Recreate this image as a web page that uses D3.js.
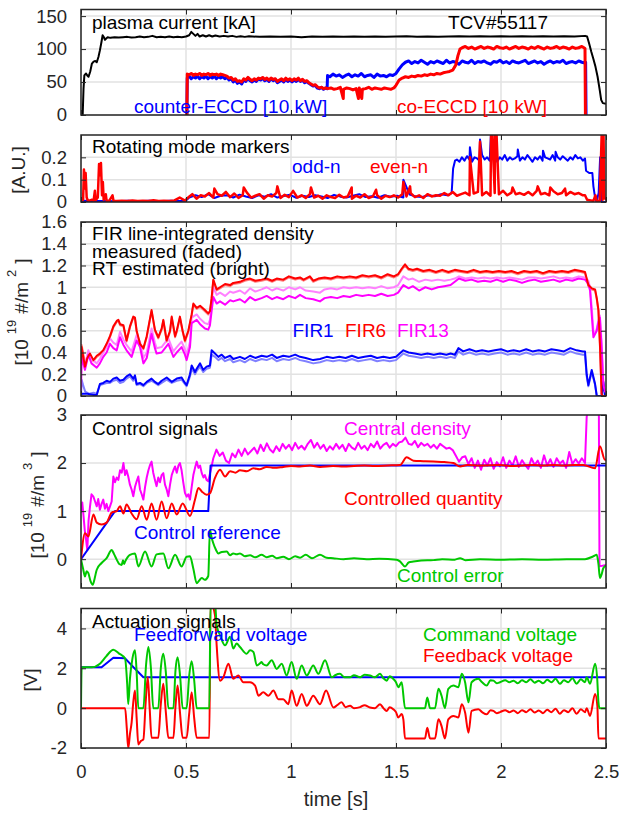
<!DOCTYPE html>
<html>
<head>
<meta charset="utf-8">
<script src="https://cdn.jsdelivr.net/npm/d3@7"></script>
<style>
  body { margin: 0; background: #fff; }
  svg { display: block; }
  text { font-family: "Liberation Sans", Arial, Helvetica, sans-serif; }
</style>
</head>
<body>
<svg id="chart" width="619" height="813"></svg>
<script>
// ---- sampling helper: a run of samples starting at t0, spaced dt apart ----
function seg(t0, dt, vals) { return vals.map((v, i) => [+(t0 + i * dt).toFixed(4), v]); }
function byTime(a, b) { return a[0] - b[0]; }

// ---- shared time axis ----
const timeTicks = [0, 0.5, 1, 1.5, 2, 2.5];
const timeTickLabels = ["0", "0.5", "1", "1.5", "2", "2.5"];

// ---- panel 1: plasma current and ECCD power ----
const currentTicks = [0, 50, 100, 150];
const currentTickLabels = ["0", "50", "100", "150"];
const plasmaCurrent = [
  [0,0],[0.008,0],[0.012,40],[0.016,60],[0.024,63],[0.03,60],[0.036,58],[0.044,66],[0.052,78],[0.06,81],
  [0.068,82],[0.075,80],[0.083,88],[0.09,98],[0.097,110],[0.103,121],[0.109,118],[0.114,114],[0.12,116],
  [0.127,118],[0.14,117],[0.16,118],[0.18,117.5],[0.2,118],[0.22,118.5],[0.24,117.5],[0.26,118],[0.28,119],
  [0.30,118],[0.32,118.5],[0.34,120],[0.36,118],[0.38,118.5],[0.40,118],[0.42,119],[0.44,118],[0.46,118.5],
  [0.48,118],[0.50,119],[0.515,121],[0.525,126],[0.535,123],[0.545,120],[0.555,123],[0.565,119],[0.58,121],
  [0.595,119],[0.61,121],[0.625,119],[0.64,120.5],[0.66,119],[0.68,120],[0.70,119],[0.72,120],[0.74,118.5],
  [0.76,119.5],[0.78,118.5],[0.80,119.5],[0.85,118.5],[0.9,119],[0.95,118.5],[1.0,119],[1.05,118],[1.1,119],
  [1.15,118.5],[1.2,119],[1.25,118.5],[1.3,119],[1.35,118.5],[1.4,119],[1.45,118.5],[1.5,119],[1.55,119.5],
  [1.6,118.5],[1.65,119],[1.7,118.5],[1.75,119],[1.8,119.5],[1.85,119],[1.9,119.5],[1.95,119],[2.0,119.5],
  [2.05,119],[2.1,119.5],[2.15,119],[2.2,119.5],[2.25,119],[2.3,119.5],[2.35,119],[2.4,120],[2.41,119],
  [2.42,108],[2.43,96],[2.44,85],[2.45,73],[2.46,58],[2.47,38],[2.477,23],[2.485,18],[2.5,17]
];
const counterEccd = [
  [0.504,0],[0.506,56],
  ...seg(0.515, 0.01, [59,55,58,56,59,55,58,56,59,55,58,56,59,55,58,56,58,55,57]),
  ...seg(0.705, 0.01, [53,55,50,53,48,50,47,53,51,56,52,50,53,51,55,53,56,52,54,51,55,52,54,49,51,53,50,54,
                       51,53,50,53,51,54,51,53,49,51,48,46,44,45,41,40,42,39,41]),
  [1.172,40],[1.174,60],
  ...seg(1.185, 0.015, [58,62,59,61,57,60,62,58,61,59,63,58,60,61,57,62,59,60,58,61,60]),
  [1.50,63],[1.515,70],[1.53,76],[1.545,80],
  ...seg(1.56, 0.015, [82,78,81,79,83,80,77,81,79,82,80,78,83,79,81,80,77,82,80,79,83,78,81,80,82,79,77,81,
                       80,83,79,81,78,82,80,79,81,83,78,80,82,79,81,77,80,82,79,81,80,83,78,80,81,79,82,80,79]),
  [2.403,80],[2.405,0]
];
const coEccd = [
  [0.504,0],[0.506,62],
  ...seg(0.515, 0.01, [61,63,60,62,61,63,60,62,61,63,60,62,61,62,60,62,61,60,59]),
  ...seg(0.705, 0.01, [56,57,53,55,51,52,50,55,53,57,54,52,55,53,56,55,57,54,56,53,56,54,55,51,53,55,52,56,
                       53,55,52,55,53,56,52,54,51,52,49,47,45,46,43,41,42,40,41]),
  ...seg(1.175, 0.015, [40,41,39,40,42,39,41,40,38,40,41,39,40,42,39,41,40,39,41,40,39,41]),
  [1.249,25],[1.321,25],[1.337,25],
  [1.50,45],[1.515,53],[1.53,56],[1.545,58],
  ...seg(1.56, 0.015, [57,59,58,60,59,61,60,62,61,63,62,64,65,66,68]),
  [1.785,76],[1.795,90],[1.805,100],
  ...seg(1.815, 0.015, [102,104,101,103,100,102,104,101,103,102,100,104,102,101,103,100,102,104,101,103,
                        102,100,103,101,104,102,100,103,101,102,104,101,103,102,100,103,101,102,104]),
  [2.395,102],[2.40,101],[2.402,0]
].sort(byTime);

// ---- panel 2: rotating mode markers ----
const modeTicks = [0, 0.1, 0.2];
const modeTickLabels = ["0", "0.1", "0.2"];
const oddN = [
  ...seg(0, 0.025, [0.004,0.006,0.003,0.005,0.004,0.006,0.003,0.005,0.004,0.006,0.003,0.005,0.004,0.006,
                    0.003,0.005,0.004,0.006,0.004,0.005,0.006]),
  ...seg(0.515, 0.03, [0.02,0.03,0.022,0.035,0.018,0.028,0.03,0.02,0.033,0.025,0.018,0.03,0.024,0.035,0.02,
                       0.027,0.032,0.019,0.028,0.022,0.03,0.025,0.018,0.032,0.024,0.02,0.028,0.035,0.022,0.026,
                       0.019,0.03,0.024,0.028,0.02,0.033,0.025,0.022,0.03,0.026,0.035,0.03]),
  [1.535,0.1],
  [1.765,0.04],[1.772,0.15],[1.781,0.185],
  ...seg(1.79, 0.012, [0.19,0.18,0.2,0.185,0.205,0.19,0.18,0.2,0.195,0.185,0.21,0.19,0.2,0.185,0.195,0.205,
                       0.18,0.2,0.19,0.21,0.185,0.2,0.19,0.195,0.205,0.185,0.2,0.19,0.21,0.195,0.18,0.2,0.19,
                       0.205,0.185,0.2,0.195,0.19,0.21,0.185,0.2,0.19,0.205,0.195,0.185,0.2,0.19,0.21,0.195,
                       0.2,0.185]),
  [1.852,0.245],[1.9,0.28],[1.953,0.32],[1.976,0.32],[2.08,0.235],[2.2,0.23],[2.26,0.225],
  [2.40,0.195],[2.405,0.14],[2.42,0.13],[2.435,0.13],[2.44,0.07],[2.448,0.02],[2.455,0],[2.465,0.04],
  [2.472,0.2],[2.478,0],[2.5,0]
].sort(byTime);
const evenN = [
  [0,0.005],[0.01,0.01],[0.014,0.145],[0.018,0.06],[0.022,0.13],[0.027,0.02],[0.032,0.008],[0.04,0.005],
  [0.05,0.01],[0.06,0.006],[0.066,0.05],[0.07,0.008],[0.08,0.02],[0.086,0.17],[0.09,0.12],[0.095,0.175],
  [0.1,0.03],[0.104,0.09],[0.108,0.01],[0.118,0.035],[0.122,0.005],[0.135,0.006],[0.15,0.03],[0.155,0.005],
  ...seg(0.17, 0.025, [0.005,0.006,0.004,0.007,0.005,0.006,0.004,0.008,0.005,0.006,0.005,0.007,0.02,0.006]),
  ...seg(0.51, 0.02, [
    0.02,0.035,0.015,0.03,0.025,0.04,0.02,0.035,0.028,0.045,
    0.022,0.038,0.018,0.03,0.042,0.02,0.028,0.035,0.015,0.03,
    0.025,0.04,0.018,0.032,0.022,0.05,0.02,0.03,0.018,0.035,
    0.02,0.028,0.015,0.03,0.022,0.018,0.032,0.02,0.025,0.015,
    0.028,0.02,0.035,0.018,0.025,0.03,0.015,0.028,0.022,0.03,
    0.02,0.035,0.025,0.04,0.022,0.03,0.018,0.035,0.025,0.03,
    0.028,0.04,0.03,0.045,0.028,0.035,0.042,0.03,0.038,0.045,
    0.03,0.045,0.028,0.04,0.035,0.05,0.03,0.042,0.035,0.04,
    0.032,0.045,0.03,0.05,0.035,0.04,0.03,0.048,0.035,0.04,
    0.03,0.045,0.035,0.04,0.03]),
  [0.635,0.06],[0.775,0.065],[0.935,0.07],[1.095,0.065],[1.289,0.065],[1.405,0.055],[1.535,0.09],[1.567,0.07],
  [1.852,0.2],[1.9,0.27],[1.953,0.32],[1.958,0.32],[1.972,0.32],[1.978,0.32],[2.055,0.065],[2.175,0.07],
  [2.235,0.065],[2.305,0.06],
  [2.40,0.03],[2.41,0.01],[2.44,0.005],[2.45,0.03],[2.455,0.005],[2.47,0.005],[2.48,0.32],[2.484,0.01],
  [2.488,0.32],[2.492,0.02],[2.5,0.01]
].sort(byTime);

// ---- panel 3: FIR line-integrated density ----
const firTicks = [0, 0.2, 0.4, 0.6, 0.8, 1, 1.2, 1.4, 1.6];
const firTickLabels = ["0", "0.2", "0.4", "0.6", "0.8", "1", "1.2", "1.4", "1.6"];
const fir6Rt = [
  [0,0.3],[0.003,0.45],[0.019,0.27],[0.03,0.35],[0.043,0.39],[0.059,0.33],[0.075,0.37],[0.09,0.39],[0.106,0.42],
  [0.122,0.48],[0.138,0.55],[0.154,0.64],[0.17,0.69],[0.178,0.7],[0.186,0.66],[0.202,0.65],[0.217,0.51],
  [0.233,0.64],[0.249,0.73],[0.257,0.72],[0.265,0.6],[0.281,0.48],[0.297,0.44],[0.313,0.55],[0.336,0.79],
  [0.352,0.61],[0.368,0.54],[0.384,0.62],[0.392,0.7],[0.408,0.51],[0.424,0.6],[0.432,0.73],[0.448,0.55],
  [0.456,0.6],[0.471,0.73],[0.484,0.6],[0.495,0.51],[0.511,0.6],[0.527,0.75],[0.535,0.85],[0.551,0.81],
  [0.567,0.83],[0.59,0.79],[0.606,0.76],[0.614,0.78],[0.622,0.9],[0.63,1.07],[0.646,0.98],[0.662,1.0],
  [0.686,1.03],[0.71,1.02],[0.725,1.04],[0.757,1.05],[0.78,1.07],[0.805,1.08],[0.83,1.06],[0.86,1.07],
  [0.884,1.08],[0.91,1.06],[0.932,1.08],[0.963,1.07],[0.99,1.1],[1.02,1.08],[1.043,1.09],[1.06,1.07],
  [1.09,1.1],[1.106,1.06],[1.13,1.08],[1.16,1.09],[1.19,1.08],[1.22,1.1],[1.25,1.09],[1.28,1.1],[1.31,1.09],
  [1.34,1.11],[1.37,1.1],[1.4,1.11],[1.43,1.09],[1.46,1.12],[1.49,1.1],[1.51,1.12],[1.527,1.17],[1.543,1.21],
  [1.56,1.17],[1.58,1.16],[1.6,1.17],[1.63,1.15],[1.66,1.16],[1.69,1.14],[1.72,1.16],[1.75,1.14],[1.78,1.16],
  [1.81,1.15],[1.84,1.14],[1.87,1.16],[1.9,1.14],[1.93,1.15],[1.96,1.14],[1.99,1.15],[2.02,1.14],[2.05,1.15],
  [2.08,1.13],[2.11,1.15],[2.14,1.14],[2.17,1.15],[2.2,1.13],[2.23,1.15],[2.26,1.14],[2.29,1.15],[2.32,1.14],
  [2.35,1.16],[2.38,1.15],[2.4,1.14],[2.416,1.02],[2.432,0.99],[2.448,0.98],[2.456,0.9],[2.464,0.79],
  [2.471,0.48],[2.479,0.02],[2.483,0],[2.5,0]
];
const fir6Meas = [
  [0,0.32],[0.003,0.47],[0.019,0.3],[0.03,0.36],[0.043,0.38],[0.059,0.32],[0.075,0.36],[0.09,0.38],[0.106,0.41],
  [0.122,0.47],[0.138,0.54],[0.154,0.63],[0.17,0.68],[0.178,0.69],[0.186,0.65],[0.202,0.64],[0.217,0.5],
  [0.233,0.63],[0.249,0.72],[0.257,0.71],[0.265,0.59],[0.281,0.47],[0.297,0.43],[0.313,0.54],[0.336,0.78],
  [0.352,0.6],[0.368,0.53],[0.384,0.61],[0.392,0.69],[0.408,0.5],[0.424,0.59],[0.432,0.72],[0.448,0.54],
  [0.456,0.59],[0.471,0.72],[0.484,0.59],[0.495,0.5],[0.511,0.59],[0.527,0.74],[0.535,0.84],[0.551,0.8],
  [0.567,0.82],[0.59,0.78],[0.606,0.75],[0.614,0.77],[0.622,0.89],[0.63,1.06],[0.646,0.97],[0.662,0.99],
  [0.686,1.02],[0.71,1.01],[0.725,1.03],[0.757,1.04],[0.78,1.06],[0.805,1.07],[0.83,1.05],[0.86,1.06],
  [0.884,1.07],[0.91,1.05],[0.932,1.07],[0.963,1.06],[0.99,1.09],[1.02,1.07],[1.043,1.08],[1.06,1.06],
  [1.09,1.09],[1.106,1.05],[1.13,1.07],[1.16,1.08],[1.19,1.07],[1.22,1.09],[1.25,1.08],[1.28,1.09],[1.31,1.08],
  [1.34,1.1],[1.37,1.09],[1.4,1.1],[1.43,1.08],[1.46,1.11],[1.49,1.09],[1.51,1.11],[1.527,1.16],[1.543,1.2],
  [1.56,1.16],[1.58,1.15],[1.6,1.16],[1.63,1.14],[1.66,1.15],[1.69,1.13],[1.72,1.15],[1.75,1.13],[1.78,1.15],
  [1.81,1.14],[1.84,1.13],[1.87,1.15],[1.9,1.13],[1.93,1.14],[1.96,1.13],[1.99,1.14],[2.02,1.13],[2.05,1.14],
  [2.08,1.12],[2.11,1.14],[2.14,1.13],[2.17,1.14],[2.2,1.12],[2.23,1.14],[2.26,1.13],[2.29,1.14],[2.32,1.13],
  [2.35,1.15],[2.38,1.14],[2.4,1.13],[2.416,1.01],[2.432,0.98],[2.448,0.97],[2.456,0.89],[2.464,0.78],
  [2.471,0.47],[2.479,0.02],[2.483,0],[2.5,0]
];
const fir13Rt = [
  [0,0.05],[0.003,0.36],[0.019,0.24],[0.035,0.38],[0.05,0.3],[0.075,0.26],[0.09,0.3],[0.106,0.36],[0.122,0.4],
  [0.138,0.48],[0.154,0.44],[0.17,0.42],[0.186,0.54],[0.202,0.47],[0.217,0.42],[0.241,0.36],[0.265,0.51],
  [0.281,0.45],[0.297,0.3],[0.313,0.35],[0.336,0.57],[0.352,0.44],[0.36,0.39],[0.384,0.4],[0.392,0.42],
  [0.416,0.48],[0.44,0.36],[0.456,0.4],[0.479,0.45],[0.495,0.38],[0.503,0.33],[0.519,0.45],[0.527,0.67],
  [0.551,0.7],[0.567,0.66],[0.59,0.62],[0.606,0.61],[0.614,0.65],[0.622,0.78],[0.63,0.91],[0.646,0.85],
  [0.662,0.87],[0.686,0.84],[0.71,0.88],[0.725,0.87],[0.757,0.89],[0.78,0.86],[0.805,0.91],[0.83,0.88],
  [0.86,0.9],[0.884,0.92],[0.91,0.89],[0.932,0.91],[0.963,0.89],[0.99,0.92],[1.02,0.9],[1.043,0.93],[1.07,0.9],
  [1.106,0.89],[1.138,0.87],[1.16,0.9],[1.19,0.91],[1.22,0.9],[1.25,0.92],[1.28,0.91],[1.31,0.93],[1.34,0.92],
  [1.37,0.93],[1.4,0.92],[1.43,0.94],[1.46,0.92],[1.49,0.93],[1.51,0.95],[1.535,1.02],[1.56,0.99],[1.58,1.01],
  [1.61,0.97],[1.64,1.0],[1.67,0.98],[1.7,1.0],[1.73,1.01],[1.76,1.02],[1.78,1.05],[1.8,1.08],[1.83,1.06],
  [1.86,1.07],[1.89,1.05],[1.92,1.06],[1.95,1.05],[1.98,1.07],[2.01,1.05],[2.04,1.07],[2.07,1.06],[2.1,1.04],
  [2.13,1.06],[2.16,1.07],[2.19,1.05],[2.22,1.06],[2.25,1.07],[2.28,1.05],[2.31,1.07],[2.34,1.06],[2.37,1.08],
  [2.4,1.07],[2.416,1.03],[2.424,0.97],[2.432,0.75],[2.44,0.54],[2.448,0.57],[2.456,0.6],[2.464,0.68],
  [2.471,0.72],[2.479,0.45],[2.487,0.11],[2.495,0.04],[2.5,0.04]
];
const fir13Meas = [
  [0,0.1],[0.003,0.42],[0.019,0.28],[0.035,0.42],[0.05,0.34],[0.075,0.3],[0.09,0.34],[0.106,0.4],[0.122,0.45],
  [0.138,0.53],[0.154,0.49],[0.17,0.47],[0.186,0.59],[0.202,0.52],[0.217,0.47],[0.241,0.41],[0.265,0.56],
  [0.281,0.5],[0.297,0.35],[0.313,0.4],[0.336,0.62],[0.352,0.49],[0.36,0.44],[0.384,0.45],[0.392,0.47],
  [0.416,0.53],[0.44,0.41],[0.456,0.45],[0.479,0.5],[0.495,0.43],[0.503,0.38],[0.519,0.5],[0.527,0.72],
  [0.551,0.75],[0.567,0.71],[0.59,0.67],[0.606,0.66],[0.614,0.7],[0.622,0.85],[0.63,1.0],[0.646,0.93],
  [0.662,0.95],[0.686,0.92],[0.71,0.96],[0.725,0.95],[0.757,0.97],[0.78,0.94],[0.805,0.99],[0.83,0.96],
  [0.86,0.98],[0.884,1.0],[0.91,0.97],[0.932,0.99],[0.963,0.97],[0.99,1.0],[1.02,0.98],[1.043,1.0],[1.07,0.97],
  [1.106,0.96],[1.138,0.95],[1.16,0.98],[1.19,0.99],[1.22,0.98],[1.25,1.0],[1.28,0.99],[1.31,1.0],[1.34,0.99],
  [1.37,1.0],[1.4,0.99],[1.43,1.01],[1.46,0.99],[1.49,1.0],[1.51,1.02],[1.535,1.1],[1.56,1.07],[1.58,1.08],
  [1.61,1.05],[1.64,1.07],[1.67,1.06],[1.7,1.07],[1.73,1.06],[1.76,1.07],[1.78,1.08],[1.8,1.1],[1.83,1.08],
  [1.86,1.09],[1.89,1.08],[1.92,1.09],[1.95,1.08],[1.98,1.09],[2.01,1.08],[2.04,1.09],[2.07,1.08],[2.1,1.07],
  [2.13,1.09],[2.16,1.09],[2.19,1.08],[2.22,1.09],[2.25,1.1],[2.28,1.08],[2.31,1.09],[2.34,1.08],[2.37,1.1],
  [2.4,1.09],[2.416,1.06],[2.424,1.0],[2.432,0.82],[2.44,0.6],[2.448,0.58],[2.456,0.62],[2.464,0.7],
  [2.471,0.74],[2.479,0.5],[2.487,0.15],[2.495,0.05],[2.5,0.05]
];
const fir1Rt = [
  [0,0],[0.003,0.02],[0.03,0.02],[0.06,0.01],[0.075,0.01],[0.09,0.11],[0.106,0.12],[0.122,0.14],[0.138,0.13],
  [0.154,0.16],[0.17,0.17],[0.186,0.14],[0.202,0.15],[0.217,0.18],[0.233,0.2],[0.249,0.16],[0.257,0.19],
  [0.265,0.11],[0.281,0.12],[0.297,0.1],[0.313,0.13],[0.336,0.16],[0.352,0.13],[0.368,0.11],[0.384,0.14],
  [0.408,0.17],[0.432,0.13],[0.456,0.16],[0.479,0.17],[0.495,0.12],[0.503,0.1],[0.519,0.2],[0.527,0.28],
  [0.543,0.22],[0.551,0.25],[0.567,0.3],[0.582,0.24],[0.598,0.27],[0.614,0.28],[0.622,0.42],[0.638,0.39],
  [0.654,0.36],[0.67,0.38],[0.686,0.35],[0.71,0.37],[0.725,0.34],[0.757,0.36],[0.78,0.34],[0.805,0.37],
  [0.83,0.35],[0.86,0.37],[0.884,0.36],[0.91,0.38],[0.932,0.35],[0.963,0.37],[0.99,0.36],[1.02,0.38],
  [1.043,0.36],[1.07,0.35],[1.106,0.33],[1.138,0.34],[1.17,0.36],[1.2,0.35],[1.23,0.36],[1.26,0.35],
  [1.29,0.37],[1.32,0.35],[1.35,0.36],[1.38,0.37],[1.41,0.35],[1.44,0.36],[1.47,0.35],[1.5,0.36],
  [1.535,0.42],[1.56,0.4],[1.59,0.39],[1.62,0.38],[1.65,0.39],[1.68,0.38],[1.71,0.39],[1.74,0.38],
  [1.76,0.39],[1.78,0.38],[1.797,0.44],[1.82,0.41],[1.85,0.43],[1.88,0.41],[1.91,0.42],[1.94,0.41],
  [1.97,0.42],[2.0,0.43],[2.03,0.41],[2.06,0.42],[2.09,0.41],[2.12,0.43],[2.15,0.41],[2.18,0.42],
  [2.21,0.41],[2.24,0.43],[2.27,0.42],[2.3,0.41],[2.33,0.44],[2.36,0.42],[2.39,0.41],[2.4,0.41],
  [2.408,0.2],[2.416,0.1],[2.432,0.24],[2.448,0.11],[2.456,0],[2.479,0],[2.487,0.13],[2.495,0],[2.5,0]
];
const fir1Meas = [
  [0,0],[0.003,0.15],[0.01,0.1],[0.02,0.04],[0.04,0.02],[0.06,0.03],[0.075,0.02],[0.09,0.1],[0.106,0.11],
  [0.122,0.12],[0.138,0.12],[0.154,0.14],[0.17,0.15],[0.186,0.12],[0.202,0.13],[0.217,0.16],[0.233,0.18],
  [0.249,0.14],[0.257,0.17],[0.265,0.1],[0.281,0.11],[0.297,0.09],[0.313,0.12],[0.336,0.14],[0.352,0.12],
  [0.368,0.1],[0.384,0.12],[0.408,0.15],[0.432,0.12],[0.456,0.14],[0.479,0.15],[0.495,0.11],[0.503,0.09],
  [0.519,0.18],[0.527,0.25],[0.543,0.2],[0.551,0.23],[0.567,0.27],[0.582,0.22],[0.598,0.25],[0.614,0.26],
  [0.622,0.38],[0.638,0.36],[0.654,0.33],[0.67,0.35],[0.686,0.32],[0.71,0.34],[0.725,0.31],[0.757,0.33],
  [0.78,0.31],[0.805,0.34],[0.83,0.32],[0.86,0.34],[0.884,0.33],[0.91,0.35],[0.932,0.32],[0.963,0.34],
  [0.99,0.33],[1.02,0.35],[1.043,0.33],[1.07,0.32],[1.106,0.3],[1.138,0.31],[1.17,0.33],[1.2,0.32],
  [1.23,0.33],[1.26,0.32],[1.29,0.34],[1.32,0.32],[1.35,0.33],[1.38,0.34],[1.41,0.32],[1.44,0.33],
  [1.47,0.32],[1.5,0.33],[1.535,0.39],[1.56,0.37],[1.59,0.36],[1.62,0.35],[1.65,0.36],[1.68,0.35],
  [1.71,0.36],[1.74,0.35],[1.76,0.36],[1.78,0.35],[1.797,0.41],[1.82,0.38],[1.85,0.4],[1.88,0.38],
  [1.91,0.39],[1.94,0.38],[1.97,0.39],[2.0,0.4],[2.03,0.38],[2.06,0.39],[2.09,0.38],[2.12,0.4],[2.15,0.38],
  [2.18,0.39],[2.21,0.38],[2.24,0.4],[2.27,0.39],[2.3,0.38],[2.33,0.41],[2.36,0.39],[2.39,0.38],[2.4,0.38],
  [2.408,0.18],[2.416,0.09],[2.432,0.22],[2.448,0.1],[2.456,0],[2.5,0]
];

// ---- panel 4: control signals ----
const ctrlTicks = [0, 1, 2, 3];
const ctrlTickLabels = ["0", "1", "2", "3"];
const controlReference = [[0,0],[0.162,1.0],[0.606,1.0],[0.617,1.95],[2.5,1.95]];
const controlledQuantity = [
  [0,0],[0.019,0.54],[0.035,0.47],[0.059,0.93],[0.075,0.76],[0.098,0.72],[0.122,0.76],[0.146,0.97],[0.17,1.0],
  [0.186,1.1],[0.202,0.95],[0.217,1.14],[0.241,0.95],[0.265,0.83],[0.289,1.1],[0.313,0.82],[0.336,1.16],
  [0.36,0.82],[0.384,1.2],[0.408,0.85],[0.432,1.16],[0.456,0.93],[0.484,1.16],[0.519,0.9],[0.543,1.24],
  [0.559,1.48],[0.575,1.41],[0.598,1.34],[0.614,1.37],[0.638,1.69],[0.662,1.86],[0.686,1.72],[0.71,1.83],
  [0.735,1.8],[0.757,1.85],[0.79,1.83],[0.821,1.89],[0.85,1.87],[0.884,1.92],[0.92,1.9],[0.963,1.92],
  [1.0,1.94],[1.043,1.93],[1.09,1.95],[1.138,1.92],[1.2,1.94],[1.25,1.93],[1.3,1.94],[1.35,1.95],[1.4,1.94],
  [1.46,1.95],[1.519,1.96],[1.551,2.12],[1.583,2.05],[1.63,2.04],[1.678,2.03],[1.73,2.02],[1.773,2.0],
  [1.805,1.93],[1.84,1.96],[1.9,1.95],[1.995,1.96],[2.05,1.94],[2.1,1.95],[2.15,1.96],[2.2,1.95],[2.25,1.96],
  [2.3,1.95],[2.35,1.96],[2.392,1.96],[2.448,1.89],[2.471,2.35],[2.495,2.07],[2.5,2.07]
];
const centralDensity = [
  [0,0.97],[0.006,1.18],[0.012,0.9],[0.018,0.6],[0.024,0.41],[0.03,0.19],[0.036,0.8],[0.043,1.1],[0.05,1.35],
  [0.059,1.3],[0.067,1.2],[0.075,1.1],[0.082,1.25],[0.09,1.03],[0.098,1.15],[0.106,1.24],[0.114,1.05],
  [0.122,1.15],[0.13,1.0],[0.138,1.1],[0.146,1.2],[0.154,1.72],[0.162,1.6],[0.17,1.7],[0.178,1.65],
  [0.186,1.85],[0.194,1.8],[0.202,2.0],[0.21,1.75],[0.217,1.85],[0.225,1.72],[0.233,1.55],[0.241,1.45],
  [0.249,1.31],[0.257,1.5],[0.265,1.62],[0.273,1.72],[0.281,1.45],[0.289,1.35],[0.297,1.24],[0.305,1.5],
  [0.313,1.7],[0.321,1.85],[0.328,1.95],[0.336,2.03],[0.344,1.8],[0.352,1.65],[0.36,1.52],[0.368,1.7],
  [0.376,1.6],[0.384,1.75],[0.392,1.79],[0.4,1.55],[0.408,1.45],[0.416,1.31],[0.424,1.55],[0.432,1.75],
  [0.44,1.85],[0.448,1.93],[0.456,1.8],[0.464,1.95],[0.471,2.0],[0.479,1.85],[0.487,1.6],[0.495,1.38],
  [0.503,1.3],[0.511,1.35],[0.519,1.24],[0.527,1.5],[0.535,1.75],[0.543,1.9],[0.551,2.03],[0.559,1.9],
  [0.567,1.95],[0.575,1.79],[0.583,1.7],[0.59,1.75],[0.598,1.65],[0.606,1.62],[0.614,1.78],[0.622,1.93],
  ...seg(0.63, 0.015, [
    2.1,2.28,2.15,2.22,2.05,2.0,2.2,2.12,2.28,2.15,
    2.3,2.18,2.25,2.32,2.2,2.38,2.25,2.41,2.28,2.22,
    2.35,2.25,2.4,2.3,2.38,2.27,2.42,2.3,2.36,2.28,
    2.4,2.48,2.32,2.42,2.3,2.38,2.25,2.35,2.28,2.4,
    2.3,2.38,2.25,2.4,2.32,2.28,2.42,2.3,2.36,2.27,
    2.4,2.33,2.45,2.3,2.38,2.42,2.32,2.4,2.35,2.43,
    2.45,2.53,2.4,2.38,2.46,2.33,2.42,2.36,2.4,2.32,
    2.38,2.3,2.4,2.35,2.3,2.32,2.27]),
  [1.785,2.15],[1.8,2.03],[1.815,2.12],
  ...seg(1.83, 0.015, [2.14,1.98,2.1,1.9,2.05,1.86,2.07,1.95,2.1,1.88,2.02,1.93,2.12,1.9,2.05,1.95,2.14,1.92,
                       2.06,1.96,1.88,2.1,1.96,2.05,1.9,2.16,1.95,2.08,1.92,2.1,1.99,2.05,1.9,2.23,1.98,2.08,
                       1.99,2.1]),
  [2.40,2.0],[2.408,2.96],[2.414,3.1],[2.466,3.1],[2.469,-0.15],[2.5,-0.12]
];
const controlError = [
  [0,0],[0.01,-0.2],[0.019,-0.36],[0.027,-0.25],[0.035,-0.29],[0.045,-0.45],[0.056,-0.53],[0.065,-0.4],
  [0.075,-0.22],[0.098,-0.08],[0.122,0.02],[0.146,0.19],[0.158,0.1],[0.17,-0.01],[0.182,-0.1],[0.194,-0.12],
  [0.2,-0.02],[0.205,-0.1],[0.21,-0.05],[0.233,0.09],[0.257,0.12],[0.273,-0.15],[0.305,0.16],[0.336,-0.15],
  [0.36,0.1],[0.392,0.12],[0.416,-0.19],[0.448,0.09],[0.479,-0.15],[0.503,0.05],[0.519,0.06],[0.535,-0.2],
  [0.551,-0.5],[0.562,-0.45],[0.575,-0.39],[0.59,-0.43],[0.606,-0.35],[0.614,0.61],[0.622,0.45],[0.630,0.33],
  [0.642,0.2],[0.654,0.12],[0.67,0.15],[0.694,0.16],[0.71,0.08],[0.725,0.12],[0.741,0.1],[0.757,0.12],
  [0.78,0.06],[0.805,0.08],[0.83,0.04],[0.86,0.09],[0.884,0.04],[0.91,0.07],[0.932,0.02],[0.963,0.05],
  [0.99,0.0],[1.02,0.06],[1.043,0.03],[1.07,0.09],[1.1,0.02],[1.138,0.09],[1.17,0.03],[1.2,0.02],[1.25,0.0],
  [1.3,0.02],[1.36,0.0],[1.42,0.01],[1.503,-0.01],[1.52,-0.05],[1.543,-0.15],[1.56,-0.07],[1.583,-0.05],
  [1.62,-0.03],[1.678,-0.02],[1.72,0.0],[1.78,-0.01],[1.805,0.02],[1.83,-0.02],[1.9,0],[1.995,-0.01],[2.1,0.0],
  [2.2,-0.01],[2.313,0],[2.4,0.0],[2.44,0.06],[2.456,0.09],[2.464,-0.1],[2.471,-0.39],[2.48,-0.3],
  [2.487,-0.19],[2.5,-0.13]
];

// ---- panel 5: actuation signals ----
const voltTicks = [-2, 0, 2, 4];
const voltTickLabels = ["-2", "0", "2", "4"];
const feedforwardVoltage = [[0,2.05],[0.098,2.05],[0.154,2.53],[0.21,2.5],[0.25,2.05],[0.297,1.55],[2.5,1.55]];
const commandVoltage = [
  [0,0],[0.003,2.05],[0.05,2.05],[0.09,2.23],[0.12,2.6],[0.154,2.93],[0.18,2.75],[0.21,2.48],[0.22,1.2],
  [0.225,0.2],[0.233,1.47],[0.245,2.5],[0.257,2.9],[0.265,1.8],[0.273,0],[0.297,0],[0.31,2.2],[0.321,3.07],
  [0.333,2.0],[0.344,0],[0.368,0],[0.38,2.0],[0.392,2.73],[0.404,1.8],[0.416,0],[0.44,0],[0.45,1.9],[0.46,2.56],
  [0.472,1.6],[0.484,0],[0.503,0],[0.515,1.6],[0.527,2.35],[0.539,1.4],[0.551,0],[0.611,0],[0.617,5.3],
  [0.638,5.3],[0.646,4.17],[0.662,3.66],[0.686,3.15],[0.71,3.58],[0.725,2.99],[0.741,3.24],[0.757,3.07],
  [0.789,2.73],[0.805,2.9],[0.821,2.82],[0.837,2.14],[0.853,2.25],[0.86,2.31],[0.868,2.2],[0.884,2.14],
  [0.908,2.4],[0.932,1.97],[0.956,2.23],[0.979,1.64],[1.003,2.31],[1.027,1.47],[1.051,2.14],[1.075,1.64],
  [1.106,2.14],[1.13,1.72],[1.162,2.4],[1.194,1.55],[1.21,1.65],[1.233,1.72],[1.255,1.55],[1.281,1.55],
  [1.3,1.65],[1.329,1.55],[1.35,1.68],[1.376,1.64],[1.4,1.55],[1.424,1.72],[1.44,1.5],[1.456,1.38],[1.47,1.6],
  [1.487,1.47],[1.5,1.3],[1.511,1.05],[1.527,1.3],[1.543,0],[1.638,0],[1.649,0.54],[1.662,0],[1.686,0],
  [1.702,0.97],[1.717,0.62],[1.733,0],[1.749,0.97],[1.773,1.13],[1.797,1.05],[1.813,1.72],[1.829,1.3],
  [1.845,0.29],[1.86,1.3],[1.892,1.47],[1.91,1.3],[1.932,1.13],[1.95,1.4],[1.964,1.38],[1.98,1.25],[1.995,1.3],
  [2.02,1.4],[2.04,1.3],[2.06,1.38],[2.08,1.25],[2.1,1.4],[2.12,1.3],[2.14,1.45],[2.16,1.28],[2.18,1.38],
  [2.2,1.25],[2.22,1.42],[2.24,1.3],[2.26,1.47],[2.28,1.22],[2.3,1.4],[2.32,1.3],[2.34,1.5],[2.36,1.22],
  [2.38,1.45],[2.40,1.3],[2.408,1.55],[2.424,1.22],[2.448,2.23],[2.458,1.5],[2.464,0.3],[2.469,0],[2.5,0]
];
const feedbackVoltage = [
  [0,0],[0.21,0],[0.218,-1.0],[0.225,-2.0],[0.233,-1.3],[0.241,-0.73],[0.249,0.3],[0.257,0.88],[0.265,-0.5],
  [0.273,-1.82],[0.285,-1.65],[0.297,-1.57],[0.308,0.3],[0.318,1.55],[0.327,0.0],[0.336,-1.49],[0.368,-1.49],
  [0.38,0.2],[0.392,1.22],[0.404,-0.2],[0.416,-1.49],[0.44,-1.49],[0.45,0.1],[0.46,1.13],[0.472,-0.3],
  [0.484,-1.49],[0.503,-1.49],[0.515,-0.3],[0.527,0.8],[0.539,-0.5],[0.551,-1.49],[0.611,-1.49],[0.617,5.3],
  [0.638,4.67],[0.646,3.15],[0.662,1.38],[0.678,1.55],[0.702,2.23],[0.725,1.47],[0.749,1.64],[0.773,1.3],
  [0.805,1.3],[0.829,1.13],[0.845,0.62],[0.868,0.8],[0.892,0.62],[0.916,0.88],[0.94,0.45],[0.963,0.45],
  [0.987,0.2],[1.003,0.88],[1.027,0.12],[1.051,0.71],[1.075,0.12],[1.106,0.62],[1.138,0.2],[1.167,0.88],
  [1.202,0.03],[1.22,0.15],[1.241,0.29],[1.26,0.05],[1.281,0.12],[1.3,0.0],[1.329,0.05],[1.35,0.15],
  [1.376,0.03],[1.4,0.0],[1.424,0.2],[1.44,0.0],[1.456,-0.14],[1.47,0.05],[1.487,-0.05],[1.5,-0.2],
  [1.511,-0.47],[1.527,-0.3],[1.535,-0.56],[1.543,-1.52],[1.638,-1.52],[1.649,-0.98],[1.662,-1.52],
  [1.686,-1.52],[1.702,-0.56],[1.717,-0.9],[1.733,-1.52],[1.749,-0.56],[1.773,-0.39],[1.797,-0.47],
  [1.813,0.2],[1.829,-0.22],[1.845,-1.23],[1.86,-0.14],[1.892,-0.05],[1.91,-0.2],[1.932,-0.31],[1.95,-0.1],
  [1.964,-0.14],[1.98,-0.25],[1.995,-0.2],[2.02,-0.1],[2.04,-0.2],[2.06,-0.12],[2.08,-0.25],[2.1,-0.1],
  [2.12,-0.2],[2.14,-0.05],[2.16,-0.22],[2.18,-0.12],[2.2,-0.25],[2.22,-0.08],[2.24,-0.2],[2.26,-0.03],
  [2.28,-0.28],[2.3,-0.1],[2.32,-0.2],[2.34,0.0],[2.36,-0.28],[2.38,-0.05],[2.40,-0.2],[2.408,0.0],
  [2.424,-0.39],[2.448,0.71],[2.459,0.1],[2.464,-1.52],[2.5,-1.52]
];

// ---- colours ----
const BLUE = "#0000ff", RED = "#ff0000", MAGENTA = "#ff00ff", GREEN = "#00c800", BLACK = "#000000";
const BLUE_FADED = "#8080ff", RED_FADED = "#ff8080", MAGENTA_FADED = "#ff80ff";
const AXIS = "#262626";
const FONT = '"Liberation Sans", Arial, Helvetica, sans-serif';

// ---- layout ----
const X0 = 81, X1 = 606;
const x = d3.scaleLinear().domain([0, 2.5]).range([X0, X1]);

const panels = [
  { top: 9.5, bottom: 115, domain: [0, 160], ticks: currentTicks, tickLabels: currentTickLabels,
    series: [
      { data: plasmaCurrent, color: BLACK, width: 2 },
      { data: counterEccd, color: BLUE, width: 3 },
      { data: coEccd, color: RED, width: 3 }
    ],
    texts: [
      { x: 92, y: 29, text: "plasma current [kA]", color: BLACK },
      { x: 448, y: 29, text: "TCV#55117", color: BLACK },
      { x: 134, y: 113, text: "counter-ECCD [10 kW]", color: BLUE },
      { x: 397, y: 113, text: "co-ECCD [10 kW]", color: RED }
    ] },
  { top: 135, bottom: 202, domain: [0, 0.3], ticks: modeTicks, tickLabels: modeTickLabels,
    ylabel: { x: 25, y: 170, parts: [["[A.U.]", 0]] },
    series: [
      { data: oddN, color: BLUE, width: 2 },
      { data: evenN, color: RED, width: 2.5 }
    ],
    texts: [
      { x: 92, y: 153, text: "Rotating mode markers", color: BLACK },
      { x: 292, y: 173, text: "odd-n", color: BLUE },
      { x: 370, y: 173, text: "even-n", color: RED }
    ] },
  { top: 222, bottom: 396, domain: [0, 1.6], ticks: firTicks, tickLabels: firTickLabels,
    ylabel: { x: 28, y: 312, parts: [["[10", 0], ["19", 1], ["#/m", 0], ["2", 1], ["]", 0]] },
    series: [
      { data: fir1Meas, color: BLUE_FADED, width: 2 },
      { data: fir6Meas, color: RED_FADED, width: 2 },
      { data: fir13Meas, color: MAGENTA_FADED, width: 2 },
      { data: fir1Rt, color: BLUE, width: 2 },
      { data: fir13Rt, color: MAGENTA, width: 2 },
      { data: fir6Rt, color: RED, width: 2 }
    ],
    texts: [
      { x: 92, y: 240, text: "FIR line-integrated density", color: BLACK },
      { x: 92, y: 257.5, text: "measured (faded)", color: BLACK },
      { x: 92, y: 275, text: "RT estimated (bright)", color: BLACK },
      { x: 292.5, y: 336.5, text: "FIR1", color: BLUE },
      { x: 345, y: 336.5, text: "FIR6", color: RED },
      { x: 397, y: 336.5, text: "FIR13", color: MAGENTA }
    ] },
  { top: 415, bottom: 588, domain: [-0.6, 3], ticks: ctrlTicks, tickLabels: ctrlTickLabels,
    ylabel: { x: 44, y: 505, parts: [["[10", 0], ["19", 1], ["#/m", 0], ["3", 1], ["]", 0]] },
    series: [
      { data: centralDensity, color: MAGENTA, width: 2 },
      { data: controlReference, color: BLUE, width: 2 },
      { data: controlledQuantity, color: RED, width: 2, smooth: true },
      { data: controlError, color: GREEN, width: 2, smooth: true }
    ],
    texts: [
      { x: 92, y: 435, text: "Control signals", color: BLACK },
      { x: 344, y: 435, text: "Central density", color: MAGENTA },
      { x: 344, y: 504.5, text: "Controlled quantity", color: RED },
      { x: 134, y: 539, text: "Control reference", color: BLUE },
      { x: 397, y: 581.5, text: "Control error", color: GREEN }
    ] },
  { top: 608.5, bottom: 748, domain: [-2, 5], ticks: voltTicks, tickLabels: voltTickLabels, xLabels: true,
    ylabel: { x: 37, y: 680, parts: [["[V]", 0]] },
    series: [
      { data: feedforwardVoltage, color: BLUE, width: 2 },
      { data: feedbackVoltage, color: RED, width: 2, smooth: true },
      { data: commandVoltage, color: GREEN, width: 2, smooth: true }
    ],
    texts: [
      { x: 92, y: 627.5, text: "Actuation signals", color: BLACK },
      { x: 134, y: 641, text: "Feedforward voltage", color: BLUE },
      { x: 423, y: 641, text: "Command voltage", color: GREEN },
      { x: 423, y: 661.5, text: "Feedback voltage", color: RED }
    ] }
];

const svg = d3.select("#chart");
svg.append("rect").attr("width", 619).attr("height", 813).attr("fill", "#fff");
const defs = svg.append("defs");

panels.forEach((p, i) => {
  const y = d3.scaleLinear().domain(p.domain).range([p.bottom, p.top]);
  const g = svg.append("g").attr("class", "panel");
  const clipId = "plot-clip-" + i;
  defs.append("clipPath").attr("id", clipId)
    .append("rect").attr("x", X0).attr("y", p.top).attr("width", X1 - X0).attr("height", p.bottom - p.top);

  // grid
  const grid = g.append("g").attr("stroke", "#e2e2e2").attr("stroke-width", 1.5);
  grid.selectAll("line.gx").data(timeTicks).join("line").attr("class", "gx")
    .attr("x1", d => x(d)).attr("x2", d => x(d)).attr("y1", p.top).attr("y2", p.bottom);
  grid.selectAll("line.gy").data(p.ticks).join("line").attr("class", "gy")
    .attr("x1", X0).attr("x2", X1).attr("y1", d => y(d)).attr("y2", d => y(d));

  // traces
  const traces = g.append("g").attr("clip-path", `url(#${clipId})`);
  p.series.forEach(s => {
    const line = d3.line().x(d => x(d[0])).y(d => y(d[1]))
      .curve(s.smooth ? d3.curveMonotoneX : d3.curveLinear);
    traces.append("path").datum(s.data)
      .attr("fill", "none").attr("stroke", s.color).attr("stroke-width", s.width)
      .attr("stroke-linejoin", "round").attr("d", line);
  });

  // axes (ticks pointing inward on all four sides)
  const styleAxis = sel => {
    sel.attr("font-family", FONT).attr("font-size", 18.5);
    sel.select(".domain").remove();
    sel.selectAll(".tick line").attr("stroke", AXIS).attr("stroke-width", 1);
    sel.selectAll(".tick text").attr("fill", AXIS);
  };
  g.append("g").attr("transform", `translate(${X0},0)`)
    .call(d3.axisLeft(y).tickValues(p.ticks).tickSize(-5).tickPadding(14)
      .tickFormat((d, k) => p.tickLabels[k]))
    .call(styleAxis);
  g.append("g").attr("transform", `translate(${X1},0)`)
    .call(d3.axisRight(y).tickValues(p.ticks).tickSize(-5).tickFormat(""))
    .call(styleAxis);
  g.append("g").attr("transform", `translate(0,${p.top})`)
    .call(d3.axisTop(x).tickValues(timeTicks).tickSize(-5).tickFormat(""))
    .call(styleAxis);
  g.append("g").attr("transform", `translate(0,${p.bottom})`)
    .call(d3.axisBottom(x).tickValues(timeTicks).tickSize(-5).tickPadding(16.5)
      .tickFormat((d, k) => p.xLabels ? timeTickLabels[k] : ""))
    .call(styleAxis);

  // frame
  g.append("rect").attr("x", X0).attr("y", p.top).attr("width", X1 - X0).attr("height", p.bottom - p.top)
    .attr("fill", "none").attr("stroke", AXIS).attr("stroke-width", 1.5);

  // annotations
  g.append("g").selectAll("text").data(p.texts).join("text")
    .attr("x", d => d.x).attr("y", d => d.y).attr("fill", d => d.color)
    .attr("font-size", 19).text(d => d.text);

  // y-axis label (rotated, with raised exponents)
  if (p.ylabel) {
    const t = g.append("text")
      .attr("transform", `translate(${p.ylabel.x},${p.ylabel.y}) rotate(-90)`)
      .attr("text-anchor", "middle").attr("font-size", 19).attr("fill", AXIS);
    let raised = 0;
    p.ylabel.parts.forEach(([str, sup], k) => {
      const ts = t.append("tspan").text(str);
      const dy = sup ? -12 : 0;
      ts.attr("dy", dy - raised);
      if (k > 0) ts.attr("dx", sup ? 5 : 6);
      if (sup) ts.attr("font-size", 13);
      raised = dy;
    });
  }
});

// shared x-axis title
svg.append("text").attr("x", 336).attr("y", 806).attr("text-anchor", "middle")
  .attr("font-size", 20).attr("fill", AXIS).text("time [s]");
</script>
</body>
</html>
